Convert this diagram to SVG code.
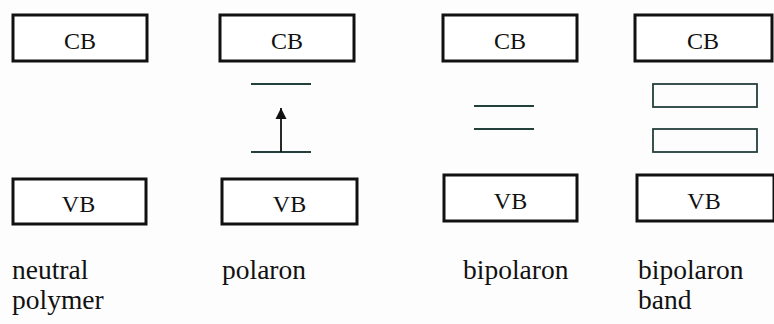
<svg xmlns="http://www.w3.org/2000/svg" width="774" height="324" viewBox="0 0 774 324">
  <style>
    .band { fill: #ffffff; stroke: #111111; stroke-width: 3; }
    .band-label { font-family: 'Liberation Serif', 'DejaVu Serif', serif; font-size: 24px; fill: #111111; text-anchor: middle; }
    .level { stroke: #24403c; stroke-width: 1.8; fill: none; }
    .caption { font-family: 'Liberation Serif', 'DejaVu Serif', serif; font-size: 27.5px; fill: #111111; }
  </style>
  <defs>
    <marker id="arrowhead" viewBox="0 0 10 10" refX="10" refY="5" markerWidth="13" markerHeight="11" markerUnits="userSpaceOnUse" orient="auto" overflow="visible">
      <path d="M0,0 L10,5 L0,10 Z" fill="#111111"/>
    </marker>
  </defs>
  <rect width="774" height="324" fill="#fdfdfd"/>

  <!-- neutral polymer -->
  <g id="neutral-cb">
    <rect class="band" x="13" y="15" width="134" height="46"/>
    <text class="band-label" x="80" y="49">CB</text>
  </g>
  <g id="neutral-vb">
    <rect class="band" x="13" y="179" width="133" height="45"/>
    <text class="band-label" x="78.5" y="212">VB</text>
  </g>
  <g id="neutral-caption">
    <text class="caption" x="12" y="279">neutral</text>
    <text class="caption" x="12" y="309">polymer</text>
  </g>

  <!-- polaron -->
  <g id="polaron-cb">
    <rect class="band" x="220" y="15" width="134" height="46"/>
    <text class="band-label" x="287" y="49">CB</text>
  </g>
  <g id="polaron-levels">
    <line class="level" x1="251" y1="84" x2="311" y2="84"/>
    <line class="level" x1="251" y1="152" x2="311" y2="152"/>
  </g>
  <g id="polaron-vb">
    <rect class="band" x="222" y="179" width="135" height="45"/>
    <text class="band-label" x="289.5" y="212">VB</text>
  </g>
  <g id="polaron-caption">
    <text class="caption" x="222" y="279">polaron</text>
  </g>

  <!-- bipolaron -->
  <g id="bipolaron-cb">
    <rect class="band" x="443" y="15" width="134" height="46"/>
    <text class="band-label" x="510" y="49">CB</text>
  </g>
  <g id="bipolaron-levels">
    <line class="level" x1="474" y1="106" x2="534" y2="106"/>
    <line class="level" x1="474" y1="129" x2="534" y2="129"/>
  </g>
  <g id="bipolaron-vb">
    <rect class="band" x="444" y="175" width="133" height="46"/>
    <text class="band-label" x="510.5" y="209">VB</text>
  </g>
  <g id="bipolaron-caption">
    <text class="caption" x="463" y="279">bipolaron</text>
  </g>

  <!-- bipolaron band -->
  <g id="band-cb">
    <rect class="band" x="635" y="15" width="137" height="46"/>
    <text class="band-label" x="703" y="49">CB</text>
  </g>
  <g id="band-levels">
    <rect class="level" x="653" y="84" width="104" height="23"/>
    <rect class="level" x="653" y="129" width="104" height="23"/>
  </g>
  <g id="band-vb">
    <rect class="band" x="637" y="175" width="137" height="46"/>
    <text class="band-label" x="704" y="209">VB</text>
  </g>
  <g id="band-caption">
    <text class="caption" x="638" y="279">bipolaron</text>
    <text class="caption" x="638" y="309">band</text>
  </g>

  <!-- connectors -->
  <g id="connectors">
    <line x1="281" y1="152" x2="281" y2="108" stroke="#111111" stroke-width="1.8" marker-end="url(#arrowhead)"/>
  </g>
</svg>
